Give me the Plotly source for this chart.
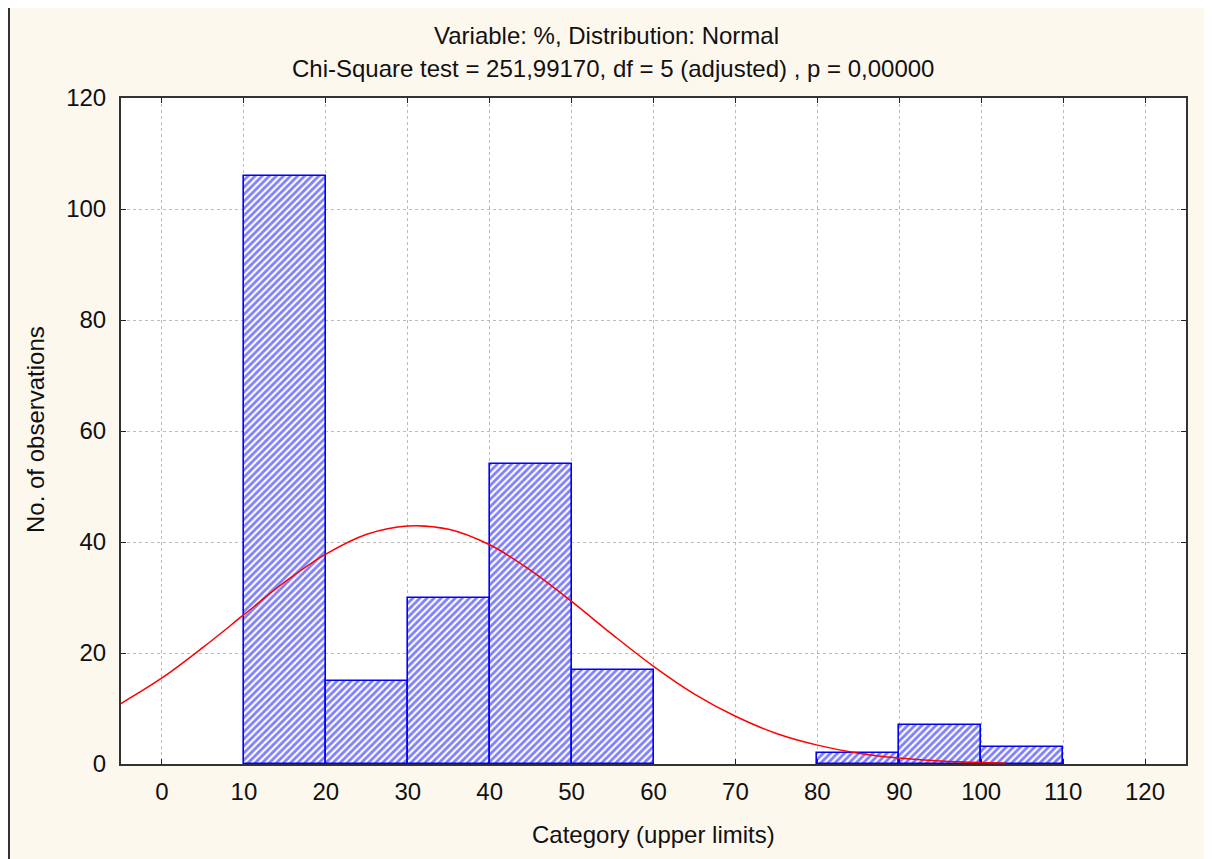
import plotly.graph_objects as go

# Histogram bins (upper limits) and observed counts
bin_lower = [10, 20, 30, 40, 50, 80, 90, 100]
bin_upper = [20, 30, 40, 50, 60, 90, 100, 110]
counts = [106, 15, 30, 54, 17, 2, 7, 3]

# Fitted normal curve
curve_x = [-5, 0, 5, 10, 15, 20, 25, 30, 35, 40, 45, 50, 55, 60, 65, 70, 75, 80, 85, 90, 95, 100, 103]
curve_y = [10.9, 15.5, 21.0, 26.9, 32.8, 37.8, 41.4, 42.9, 42.3, 39.5, 34.9, 29.3, 23.3, 17.6, 12.6, 8.6, 5.5, 3.4, 1.95, 1.07, 0.56, 0.27, 0.18]

x_ticks = [0, 10, 20, 30, 40, 50, 60, 70, 80, 90, 100, 110, 120]
y_ticks = [0, 20, 40, 60, 80, 100, 120]

title1 = "Variable: %, Distribution: Normal"
title2 = "Chi-Square test = 251,99170, df = 5 (adjusted) , p = 0,00000"
x_title = "Category (upper limits)"
y_title = "No. of observations"

FONT = "Liberation Sans, Arial, sans-serif"
FS = 24
TXT = "#111111"
BEIGE = "#FDF8EE"

centers = [(a + b) / 2 for a, b in zip(bin_lower, bin_upper)]
widths = [b - a for a, b in zip(bin_lower, bin_upper)]

fig = go.Figure()
fig.add_trace(go.Bar(
    x=centers, y=counts, width=widths,
    marker=dict(
        color="white",
        line=dict(color="#0000FF", width=1.6),
        pattern=dict(shape="/", fgcolor="#0000FF", bgcolor="white", size=5, solidity=0.55),
    ),
    showlegend=False,
))
fig.add_trace(go.Scatter(
    x=curve_x, y=curve_y, mode="lines",
    line=dict(color="#FF0000", width=1.5, shape="spline"),
    showlegend=False,
))

# page offset (body margin) and figure size
OFF = 8
W, H = 1204, 851
# plot area in screen pixels
SL, SR, ST, SB = 121, 1186, 98, 764
L = SL - OFF
R = W - (SR - OFF)
T = ST - OFF
B = H - (SB - OFF)
pw = W - L - R
ph = H - T - B

def px_x(p):
    return (p - OFF - L) / pw

def px_y(p):
    return (H - B - (p - OFF)) / ph

shapes = [
    dict(type="line", xref="paper", yref="paper", x0=px_x(9), x1=px_x(9), y0=px_y(0), y1=px_y(H + 20),
         line=dict(color="#333333", width=2)),
    dict(type="line", xref="paper", yref="paper", x0=px_x(1207), x1=px_x(1207), y0=px_y(0), y1=px_y(H + 20),
         line=dict(color="#333333", width=2)),
]

annotations = [
    dict(text=title1, xref="paper", yref="paper", x=px_x(606), y=px_y(35), showarrow=False,
         xanchor="center", yanchor="middle", font=dict(family=FONT, size=FS, color=TXT)),
    dict(text=title2, xref="paper", yref="paper", x=px_x(613), y=px_y(69), showarrow=False,
         xanchor="center", yanchor="middle", font=dict(family=FONT, size=FS, color=TXT)),
    dict(text=x_title, xref="paper", yref="paper", x=px_x(653), y=px_y(834), showarrow=False,
         xanchor="center", yanchor="middle", font=dict(family=FONT, size=FS, color=TXT)),
    dict(text=y_title, xref="paper", yref="paper", x=px_x(35), y=px_y(430), showarrow=False,
         textangle=-90, xanchor="center", yanchor="middle", font=dict(family=FONT, size=FS, color=TXT)),
]

fig.update_layout(
    width=W, height=H,
    margin=dict(l=L, r=R, t=T, b=B, pad=0),
    paper_bgcolor=BEIGE, plot_bgcolor="white",
    bargap=0,
    font=dict(family=FONT, size=FS, color=TXT),
    shapes=shapes, annotations=annotations,
    xaxis=dict(range=[-5, 125], tickvals=x_ticks, ticks="inside", ticklen=5, tickcolor="#222",
               showline=True, linecolor="#333", linewidth=2, mirror="ticks",
               showgrid=True, gridcolor="#BBBBBB", griddash="dot", gridwidth=1,
               zeroline=False, tickfont=dict(size=FS), ticklabelstandoff=5),
    yaxis=dict(range=[0, 120], tickvals=y_ticks, ticks="inside", ticklen=5, tickcolor="#222",
               showline=True, linecolor="#333", linewidth=2, mirror="ticks",
               showgrid=True, gridcolor="#BBBBBB", griddash="dot", gridwidth=1,
               zeroline=False, tickfont=dict(size=FS), ticklabelstandoff=8),
)

fig.write_html("out.html")
